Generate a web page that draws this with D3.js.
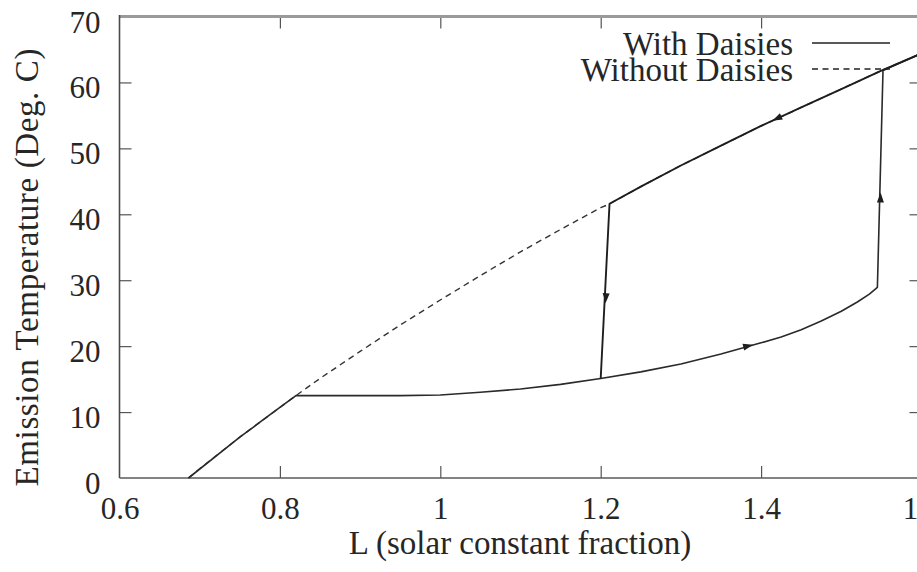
<!DOCTYPE html>
<html>
<head>
<meta charset="utf-8">
<script src="https://cdn.jsdelivr.net/npm/d3@7"></script>
<style>
  html, body { margin: 0; padding: 0; background: #fff; overflow: hidden; }
  svg { display: block; }
  text { font-family: "Liberation Serif", "Times New Roman", serif; fill: #262626; }
</style>
</head>
<body>
<svg id="chart" width="917" height="572"></svg>
<script>
// Axis ticks
const xTicks = [0.6, 0.8, 1.0, 1.2, 1.4, 1.6];
const yTicks = [0, 10, 20, 30, 40, 50, 60, 70];

// Bare planet (no daisies): emission temperature vs solar luminosity
const bareL = [0.686, 0.70, 0.75, 0.80, 0.82, 0.85, 0.90, 0.95, 1.00, 1.05, 1.10, 1.15, 1.20, 1.21, 1.25, 1.30, 1.35, 1.40, 1.45, 1.50, 1.55, 1.60];
const bareT = [0, 1.4, 6.2, 10.7, 12.5, 15.1, 19.2, 23.2, 27.0, 30.7, 34.3, 37.7, 41.0, 41.5, 44.2, 47.4, 50.4, 53.4, 56.2, 59.0, 61.8, 64.4];

// With daisies, luminosity increasing (regulated branch, then collapse jump)
const riseL = [0.686, 0.75, 0.80, 0.82, 0.86, 0.90, 0.95, 1.00, 1.05, 1.10, 1.15, 1.20, 1.25, 1.30, 1.35, 1.40, 1.425, 1.45, 1.475, 1.50, 1.52, 1.535, 1.545, 1.552, 1.60];
const riseT = [0, 6.2, 10.7, 12.5, 12.5, 12.5, 12.5, 12.6, 13.0, 13.5, 14.2, 15.1, 16.1, 17.3, 18.8, 20.5, 21.4, 22.5, 23.8, 25.3, 26.7, 27.9, 28.9, 61.8, 64.4];

// With daisies, luminosity decreasing (hot branch until daisies re-establish)
const fallL = [1.60, 1.55, 1.50, 1.45, 1.40, 1.35, 1.30, 1.25, 1.211, 1.200];
const fallT = [64.4, 61.8, 59.0, 56.2, 53.4, 50.4, 47.4, 44.2, 41.6, 15.1];

// Direction arrows: position and a point it heads toward
const arrowAt = [[1.414, 54.2], [1.206, 26.5], [1.390, 20.2], [1.549, 43.3]];
const arrowTo = [[1.400, 53.4], [1.200, 15.1], [1.400, 20.5], [1.552, 61.8]];

const legendNames = ["With Daisies", "Without Daisies"];

const svg = d3.select("#chart");
const plotLeft = 119.5, plotRight = 921.5, plotTop = 16.5, plotBottom = 478;

const x = d3.scaleLinear().domain([0.6, 1.6]).range([plotLeft, plotRight]);
const y = d3.scaleLinear().domain([0, 70]).range([plotBottom, plotTop]);

const fmt = d => String(+d.toFixed(1));

// Axes (inward ticks on all four sides)
const gx = svg.append("g").attr("transform", `translate(0,${plotBottom})`)
  .call(d3.axisBottom(x).tickValues(xTicks).tickSizeInner(-12).tickSizeOuter(0).tickFormat(fmt));
gx.selectAll("text").attr("y", 41).attr("dy", null).style("font-size", "31px");

const gy = svg.append("g").attr("transform", `translate(${plotLeft},0)`)
  .call(d3.axisLeft(y).tickValues(yTicks).tickSizeInner(-12).tickSizeOuter(0).tickFormat(fmt));
gy.selectAll("text").attr("x", -19).attr("dy", "0.5em").style("font-size", "31px");

const gt = svg.append("g").attr("transform", `translate(0,${plotTop})`)
  .call(d3.axisTop(x).tickValues(xTicks).tickSizeInner(-12).tickSizeOuter(0).tickFormat(""));
const gr = svg.append("g").attr("transform", `translate(${plotRight},0)`)
  .call(d3.axisRight(y).tickValues(yTicks).tickSizeInner(-12).tickSizeOuter(0).tickFormat(""));

[gx, gy, gt, gr].forEach(g => {
  g.select(".domain").remove();
  g.selectAll(".tick line").attr("stroke", "#555").attr("stroke-width", 1.2);
});
// skip ticks that sit on the frame corners
gy.selectAll(".tick").filter(d => d === 0 || d === 70).select("line").remove();
gr.selectAll(".tick").filter(d => d === 0 || d === 70).select("line").remove();
gx.selectAll(".tick").filter(d => d === 0.6).select("line").remove();
gt.selectAll(".tick").filter(d => d === 0.6).select("line").remove();

// Frame
svg.append("line").attr("x1", plotLeft).attr("x2", plotRight + 2).attr("y1", plotTop).attr("y2", plotTop)
  .attr("stroke", "#9a9a9a").attr("stroke-width", 3);
svg.append("line").attr("x1", plotLeft).attr("x2", plotLeft).attr("y1", plotTop - 1.5).attr("y2", plotBottom)
  .attr("stroke", "#4a4a4a").attr("stroke-width", 1.6);
svg.append("line").attr("x1", plotLeft).attr("x2", plotRight).attr("y1", plotBottom).attr("y2", plotBottom)
  .attr("stroke", "#5a5a5a").attr("stroke-width", 1.6);
svg.append("line").attr("x1", plotRight).attr("x2", plotRight).attr("y1", plotTop).attr("y2", plotBottom)
  .attr("stroke", "#5a5a5a").attr("stroke-width", 1.6);

// Axis titles
svg.append("text").attr("x", 520).attr("y", 554).attr("text-anchor", "middle")
  .style("font-size", "33px").text("L (solar constant fraction)");
svg.append("text").attr("transform", "translate(38,267.5) rotate(-90)").attr("text-anchor", "middle")
  .attr("textLength", 438).attr("lengthAdjust", "spacing")
  .style("font-size", "33px").text("Emission Temperature (Deg. C)");

const line = d3.line().x(d => x(d[0])).y(d => y(d[1]));
const zip = (a, b) => a.map((v, i) => [v, b[i]]);

// Without daisies (dashed)
svg.append("path").datum(zip(bareL, bareT)).attr("d", line)
  .attr("fill", "none").attr("stroke", "#333").attr("stroke-width", 1.4)
  .attr("stroke-dasharray", "6,4.5");

// With daisies (solid)
svg.append("path").datum(zip(riseL, riseT)).attr("d", line)
  .attr("fill", "none").attr("stroke", "#2a2a2a").attr("stroke-width", 1.6)
  .attr("stroke-linejoin", "round");
svg.append("path").datum(zip(fallL, fallT)).attr("d", line)
  .attr("fill", "none").attr("stroke", "#1e1e1e").attr("stroke-width", 1.9)
  .attr("stroke-linejoin", "round");

// Arrowheads
arrowAt.forEach((p, i) => {
  const px = x(p[0]), py = y(p[1]);
  const qx = x(arrowTo[i][0]), qy = y(arrowTo[i][1]);
  const ang = Math.atan2(qy - py, qx - px) * 180 / Math.PI;
  svg.append("path")
    .attr("d", "M0,0 L-10,-3.5 L-10,3.5 Z")
    .attr("transform", `translate(${px},${py}) rotate(${ang})`)
    .attr("fill", "#1e1e1e");
});

// Legend
const legend = svg.append("g");
legendNames.forEach((name, i) => {
  const by = 55 + i * 26;
  legend.append("text").attr("x", 793).attr("y", by).attr("text-anchor", "end")
    .style("font-size", "33px").text(name);
  legend.append("line").attr("x1", 812).attr("x2", 890).attr("y1", by - 12).attr("y2", by - 12)
    .attr("stroke", "#222").attr("stroke-width", 1.3)
    .attr("stroke-dasharray", i === 1 ? "6,4.5" : null);
});
</script>
</body>
</html>
